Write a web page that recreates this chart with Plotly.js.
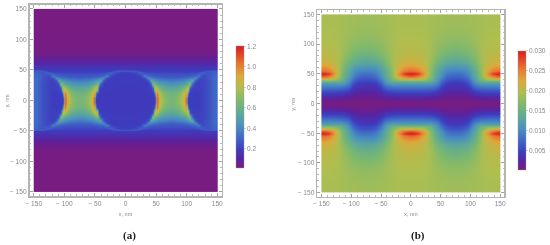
<!DOCTYPE html>
<html><head><meta charset="utf-8">
<script src="https://cdn.plot.ly/plotly-3.0.0.min.js"></script>
<style>html,body{margin:0;padding:0;background:#fff}#c{width:550px;height:245px;filter:blur(0.35px)}</style>
</head><body><div id="c"></div>
<script>
// Colour bar: position along the bar, then colour
const scalePos = [0,.07,.15,.25,.35,.45,.55,.65,.75,.85,.95,1];
const scaleCol = ['rgb(120,28,130)','rgb(90,35,160)','rgb(62,60,190)','rgb(64,105,200)','rgb(75,145,190)','rgb(95,170,150)','rgb(125,185,110)','rgb(175,190,80)','rgb(220,170,60)','rgb(232,120,48)','rgb(225,55,38)','rgb(215,30,30)'];

// Panel (a): cell edges of one repeating quarter (x 0..75, y 0..150)
const aEdgesX = [0,10,20,28,34,39,43,46,48,49.5,50.5,52,55,59,64,70,75];
const aEdgesY = [0,8,16,24,30,35,39,42,45,47,48.5,49.5,50.5,52,55,60,66,74,85,100,125,150];
// around the central circle, y rows from the mid-line upward
const aCentre = [
[.18,.18,.18,.18,.18,.18,.185,.19,.2,.85,1.2,.92,.8,.72,.67,.64],
[.18,.18,.18,.18,.18,.185,.19,.2,.6,1.1,1.0,.88,.76,.68,.64,.62],
[.18,.18,.185,.185,.19,.19,.24,.95,.85,.8,.77,.7,.64,.58,.55,.54],
[.185,.185,.19,.19,.19,.27,.72,.62,.58,.56,.54,.51,.49,.47,.45,.44],
[.185,.185,.19,.19,.25,.55,.48,.45,.44,.43,.42,.41,.39,.38,.37,.36],
[.19,.19,.19,.23,.44,.38,.36,.35,.34,.34,.33,.33,.31,.3,.3,.29],
[.19,.19,.2,.38,.31,.3,.29,.28,.28,.28,.27,.27,.26,.26,.26,.26],
[.19,.2,.26,.29,.26,.25,.25,.24,.24,.24,.24,.24,.24,.24,.24,.24],
[.2,.21,.31,.24,.22,.22,.22,.22,.21,.21,.21,.21,.21,.21,.21,.21],
[.21,.28,.23,.2,.2,.2,.2,.2,.2,.2,.2,.2,.2,.2,.2,.2],
[.3,.26,.19,.19,.19,.19,.19,.19,.19,.19,.19,.19,.19,.19,.19,.19]
];
// around the circles cut by the plot edges (lighter inside)
const aSide = [
[.31,.24,.21,.19,.19,.19,.19,.19,.2,.85,1.2,.92,.8,.72,.67,.64],
[.31,.24,.21,.19,.19,.19,.19,.2,.6,1.1,1.0,.88,.76,.68,.64,.62],
[.31,.24,.21,.2,.2,.2,.24,.95,.85,.8,.77,.7,.64,.58,.55,.54],
[.31,.24,.21,.2,.2,.27,.72,.62,.58,.56,.54,.51,.49,.47,.45,.44],
[.31,.25,.21,.2,.25,.55,.48,.45,.44,.43,.42,.41,.39,.38,.37,.36],
[.31,.25,.22,.24,.44,.38,.36,.35,.34,.34,.33,.33,.31,.3,.3,.29],
[.3,.25,.22,.38,.31,.3,.29,.28,.28,.28,.27,.27,.26,.26,.26,.26],
[.3,.25,.27,.29,.26,.25,.25,.24,.24,.24,.24,.24,.24,.24,.24,.24],
[.29,.24,.31,.24,.22,.22,.22,.22,.21,.21,.21,.21,.21,.21,.21,.21],
[.27,.28,.23,.2,.2,.2,.2,.2,.2,.2,.2,.2,.2,.2,.2,.2],
[.3,.26,.19,.19,.19,.19,.19,.19,.19,.19,.19,.19,.19,.19,.19,.19]
];
// above the circles: one level per row
const aUpper = [.18,.175,.17,.145,.105,.06,.02,.015,.013,.012];

// Panel (b)
const bEdgesX = [0,8,16,24,30,36,42,48,54,60,66,75];
const bEdgesY = [0,5,10,15,20,25,30,35,39,43,46,49,52,56,60,66,74,85,100,125,150];
const bQuarter = [
[.0005,.0005,.0005,.0005,.0005,.0004,.0004,.0003,.0003,.0003,.0003],
[.0016,.0016,.0016,.0015,.0014,.0013,.0012,.001,.0008,.0008,.0008],
[.0033,.0033,.0033,.0032,.003,.0028,.0024,.002,.0017,.0015,.0015],
[.0048,.0048,.0048,.0047,.0045,.0042,.0036,.0029,.0025,.0023,.0022],
[.0066,.0066,.0066,.0065,.0063,.006,.0052,.0039,.0033,.003,.0029],
[.0088,.0088,.0088,.0087,.0085,.008,.0072,.005,.004,.0036,.0035],
[.0112,.0112,.0112,.0112,.011,.0104,.009,.0064,.005,.0045,.0043],
[.0145,.0145,.0145,.0145,.014,.0125,.0105,.0076,.006,.0053,.005],
[.0195,.0195,.0188,.0172,.0155,.0135,.0112,.0088,.007,.0062,.0058],
[.0245,.0235,.0215,.019,.0165,.014,.012,.0098,.008,.0072,.0067],
[.0275,.026,.0235,.02,.017,.0145,.0125,.0105,.0088,.0079,.0075],
[.03,.0285,.0245,.0205,.0172,.0148,.0128,.011,.0095,.0087,.0083],
[.0265,.0255,.0232,.0205,.0175,.015,.0132,.0116,.0102,.0095,.0092],
[.025,.0242,.0225,.0203,.0178,.0155,.0138,.0122,.011,.0104,.0102],
[.0232,.0227,.0216,.0199,.018,.016,.0145,.013,.0122,.0118,.0115],
[.0218,.0214,.0206,.0196,.0184,.017,.0155,.0145,.0138,.0133,.013],
[.0208,.0206,.0202,.0196,.0188,.0178,.0168,.016,.0153,.0149,.0147],
[.0201,.02,.0198,.0195,.019,.0183,.0176,.0171,.0167,.0165,.0163],
[.0196,.0196,.0195,.0193,.0191,.0187,.0184,.0182,.018,.0179,.0178],
[.0192,.0192,.0192,.0191,.019,.0189,.0188,.0187,.0187,.0186,.0186]
];
const aTicks = [.2,.4,.6,.8,1.0,1.2];
const aTickText = ['0.2','0.4','0.6','0.8','1.0','1.2'];
const bTicks = [.005,.01,.015,.02,.025,.03];
const bTickText = ['0.005','0.010','0.015','0.020','0.025','0.030'];
const xyTicks = [-150,-100,-50,0,50,100,150];
const xyText = ['\u2212 150','\u2212 100','\u2212 50','0','50','100','150'];

// The picture repeats: mirror the quarters out to the full 300 x 300 nm field
function mirrorEdges(e){ const r=e.slice(1).reverse().map(v=>-v); return r.concat(e); }
function fullEdgesX(e){ // -150..150 from 0..75
  const pos = e.concat(e.slice(0,-1).reverse().map(v=>150-v));
  return pos.slice(1).reverse().map(v=>-v).concat(pos);
}
function buildRow(c, s){ // half row 0..150 then mirrored
  const half = c.concat(s.slice().reverse());
  return half.slice().reverse().concat(half);
}
const aRowsHalf = aCentre.map((r,i)=>buildRow(r,aSide[i]));
aUpper.forEach(v=>aRowsHalf.push(buildRow(aCentre[0].map(()=>v),aCentre[0].map(()=>v))));
const aZ = aRowsHalf.slice().reverse().concat(aRowsHalf);
const bRowsHalf = bQuarter.map(r=>buildRow(r,r));
const bZ = bRowsHalf.slice().reverse().concat(bRowsHalf);

const lab='#8a8a8a';
const tf={family:'Liberation Sans, Arial, sans-serif',size:6.6,color:lab};
const tt={family:'Liberation Sans, Arial, sans-serif',size:5.6,color:lab};
function axis(dom,anchor,ttl){
 const a={
  domain:dom,anchor:anchor,range:[-156.9,156.9],tickmode:'array',tickvals:xyTicks,ticktext:xyText,tickangle:0,
  ticks:'inside',ticklen:3,tickwidth:0.6,tickcolor:'#666',mirror:'allticks',showline:true,linecolor:'#b4b4b4',linewidth:1.6,
  showgrid:false,zeroline:false,tickfont:tf,
  minor:{tickmode:'array',tickvals:[-140,-130,-120,-110,-90,-80,-70,-60,-40,-30,-20,-10,10,20,30,40,60,70,80,90,110,120,130,140],ticks:'inside',ticklen:1.6,tickwidth:0.5,tickcolor:'#777',showgrid:false},
  automargin:false};
 if(ttl) a.title={text:ttl,font:tt,standoff:6};
 return a;
}
const W=550,H=245;
const cb=(x,y0,y1,vals,txt)=>({xref:'container',yref:'container',x:x/W,xanchor:'left',y:1-y1/H,yanchor:'bottom',
  lenmode:'pixels',len:y1-y0,thicknessmode:'pixels',thickness:8.3,xpad:0,ypad:0,outlinewidth:0.4,outlinecolor:'#999',borderwidth:0,
  tickmode:'array',tickvals:vals,ticktext:txt,ticks:'outside',ticklen:2,tickwidth:0.5,tickcolor:'#aaa',tickfont:tf});
const cs=scalePos.map((p,i)=>[p,scaleCol[i]]);
const data=[
 {type:'heatmap',x:fullEdgesX(aEdgesX),y:mirrorEdges(aEdgesY),z:aZ,zsmooth:'best',zmin:0.012,zmax:1.2,colorscale:cs,xaxis:'x',yaxis:'y',colorbar:cb(235.7,46.3,168.3,aTicks,aTickText),hoverinfo:'skip'},
 {type:'heatmap',x:fullEdgesX(bEdgesX),y:mirrorEdges(bEdgesY),z:bZ,zsmooth:'best',zmin:0.0002,zmax:0.03,colorscale:cs,xaxis:'x2',yaxis:'y2',colorbar:cb(517.7,50.7,169.7,bTicks,bTickText),hoverinfo:'skip'}
];
const dom=(a,b,n)=>n==='x'?[a/W,b/W]:[1-b/H,1-a/H];
const note=(t,px,py,f,ang)=>({text:t,xref:'paper',yref:'paper',x:px/W,y:1-py/H,xanchor:'center',yanchor:'middle',showarrow:false,font:f,textangle:ang||0});
const cap={family:'Liberation Serif, serif',size:11,color:'#222'};
const layout={width:W,height:H,margin:{l:0,r:0,t:0,b:0,pad:0,autoexpand:false},paper_bgcolor:'#fff',plot_bgcolor:'#fff',showlegend:false,
 xaxis:axis(dom(29.5,221.5,'x'),'y','x, nm'),yaxis:axis(dom(4.7,196,'y'),'x'),
 xaxis2:axis(dom(317.3,504.3,'x'),'y2','x, nm'),yaxis2:axis(dom(10.3,196.7,'y'),'x2'),
 annotations:[
  note('<b>(a)</b>',129.5,235,cap),note('<b>(b)</b>',417.7,235,cap),
  note('y, nm',6,100.5,tt,-90),note('y, nm',293.3,103.5,tt,-90)
 ]};
Plotly.newPlot('c',data,layout,{staticPlot:true,displayModeBar:false});
</script></body></html>
